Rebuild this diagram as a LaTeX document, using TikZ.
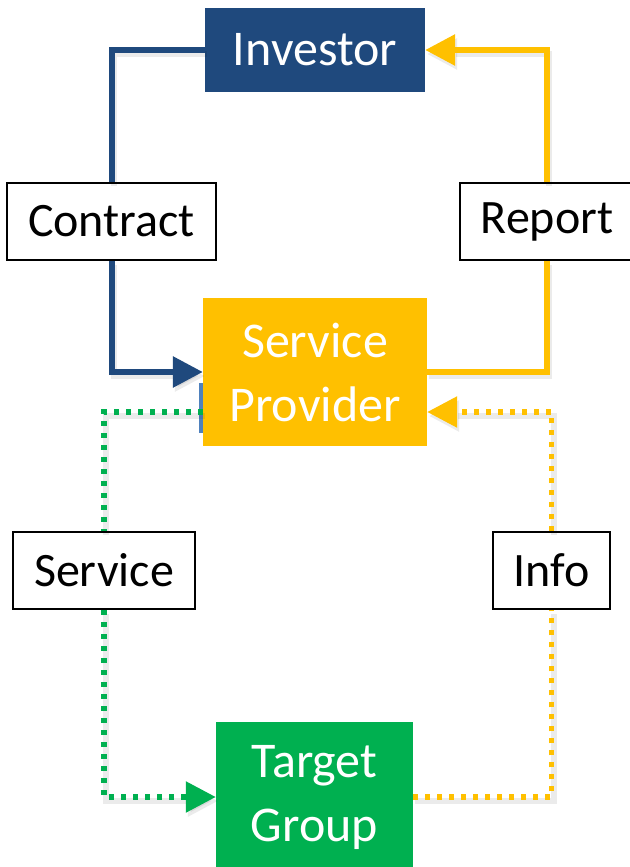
\documentclass[tikz,border=0pt]{standalone}
\usepackage{fontspec}
\setmainfont{Carlito}
\usetikzlibrary{arrows.meta,positioning}
\definecolor{invblue}{RGB}{31,73,125}
\definecolor{lightblue}{RGB}{79,129,189}
\definecolor{spyellow}{RGB}{255,192,0}
\definecolor{tggreen}{RGB}{0,176,80}
\tikzset{
  colbox/.style={inner sep=0pt, align=center, text=white,
    font=\fontsize{50}{64}\selectfont},
  labbox/.style={draw=black, line width=2pt, fill=white, inner sep=0pt,
    minimum height=77pt, font=\fontsize{48}{58}\selectfont},
  shad/.style={preaction={draw=black, opacity=0.08, line width=6pt,
    transform canvas={shift={(2pt,-4pt)}}}},
  solidcon/.style={line width=6pt, line join=miter, shad},
  dotcon/.style={line width=5.5pt, dash pattern=on 5pt off 7pt, line join=miter, shad},
  tip/.style={-{Triangle[length=30pt,width=30pt]}}
}
\begin{document}
\begin{tikzpicture}[x=1pt,y=-1pt]
\useasboundingbox (0,0) rectangle (629,867);
\fill[white] (0,0) rectangle (629,867);
% small blue rectangle behind the service provider
\fill[lightblue] (199,383) rectangle (207,433);
% nodes
\node[colbox, fill=invblue, minimum width=220pt, minimum height=84pt] (inv) at (315,50) {Investor};
\node[colbox, fill=spyellow, minimum width=224pt, minimum height=148pt] (sp) at (315,372) {Service\\Provider};
\node[colbox, fill=tggreen, minimum width=197pt, minimum height=150pt] (tg) at (314.5,797) {Target\\Group};
\node[labbox, minimum width=209pt] (contract) at (111.5,221.5) {Contract};
\node[labbox, minimum width=174pt] (report) at (547,221.5) {Report};
\node[labbox, minimum width=182pt] (service) at (104,570.5) {Service};
\node[labbox, minimum width=117pt] (info) at (551.5,570.5) {Info};
% connectors
\draw[solidcon, invblue] (inv.west) -| (contract.north);
\draw[solidcon, invblue, tip] (contract.south) |- (sp.west);
\draw[solidcon, spyellow] (sp.east) -| (report.south);
\draw[solidcon, spyellow, tip] (report.north) |- (inv.east);
\draw[dotcon, tggreen] ([yshift=-40pt]sp.west) -| (service.north);
\draw[dotcon, tggreen, tip] (service.south) |- (tg.west);
\draw[dotcon, spyellow] (tg.east) -| (info.south);
\draw[dotcon, spyellow, tip] (info.north) |- ([yshift=-40pt]sp.east);
\end{tikzpicture}
\end{document}
